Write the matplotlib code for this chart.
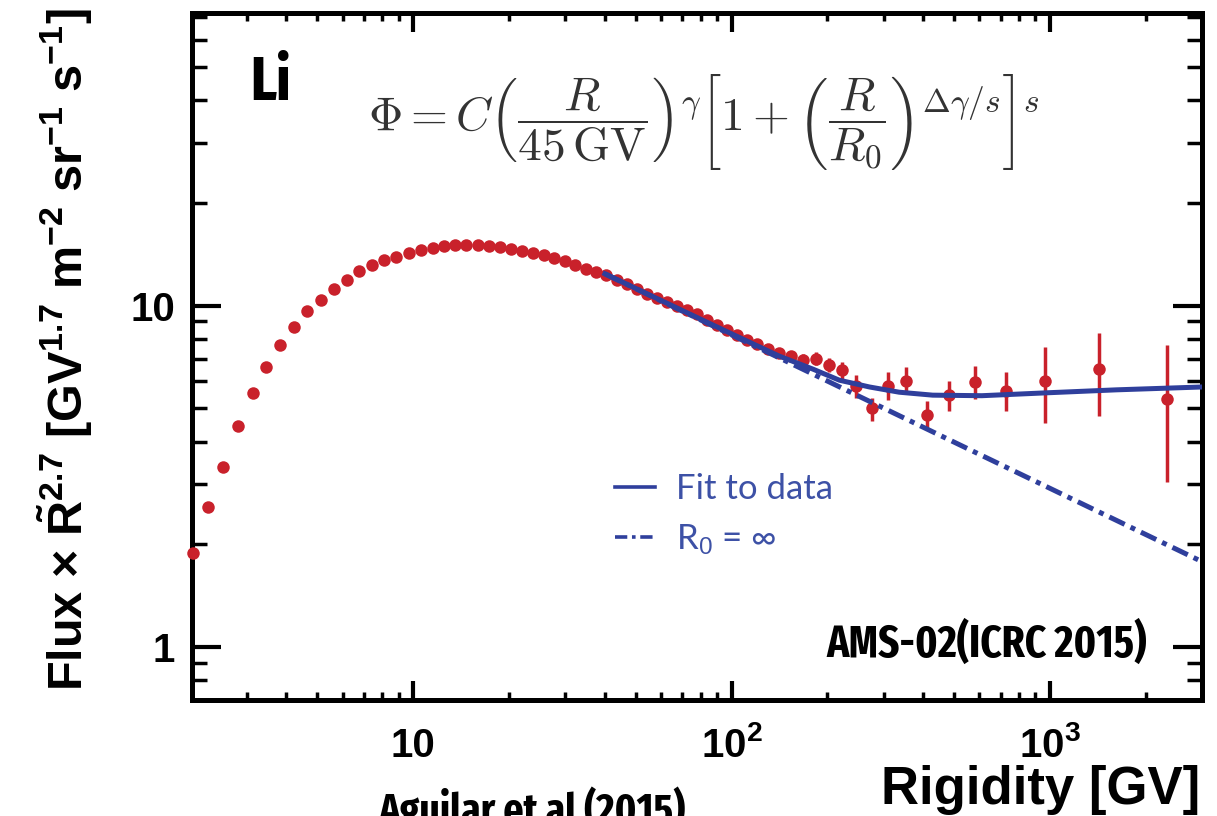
import os

import matplotlib

matplotlib.use("Agg")
import matplotlib.pyplot as plt
from matplotlib import font_manager
from matplotlib.ticker import LogLocator, NullFormatter

# Li flux x R^2.7, bins where the uncertainty is smaller than the marker
rigidity_low = [2.03, 2.27, 2.53, 2.82, 3.13, 3.46, 3.83, 4.22, 4.65, 5.12,
                5.63, 6.18, 6.77, 7.42, 8.11, 8.86, 9.67, 10.55, 11.5, 12.5,
                13.55, 14.7, 15.95, 17.3, 18.75, 20.3, 21.95, 23.75, 25.7, 27.75,
                29.95, 32.3, 34.8, 37.5, 40.4, 43.5, 46.8, 50.35, 54.15, 58.2,
                62.55, 67.25, 72.3, 77.7, 83.5]
flux_low = [1.89, 2.57, 3.38, 4.44, 5.56, 6.60, 7.67, 8.68, 9.63, 10.41,
            11.23, 11.91, 12.66, 13.18, 13.6, 13.91, 14.25, 14.55, 14.8, 14.95,
            15.05, 15.1, 15.1, 15.0, 14.85, 14.7, 14.5, 14.3, 14.05, 13.8,
            13.5, 13.2, 12.85, 12.55, 12.3, 11.9, 11.55, 11.2, 10.85, 10.55,
            10.25, 10.0, 9.7, 9.45, 9.1]

# high rigidity bins with visible error bars
rigidity_high = [89.75, 96.5, 104, 112, 120.5, 130, 141, 153.5, 167.5, 183.5,
                 201.5, 222, 246, 275, 310, 354, 410, 483, 581, 727,
                 964, 1426, 2323]
flux_high = [8.8, 8.5, 8.2, 7.95, 7.7, 7.45, 7.25, 7.1, 6.95, 7.0,
             6.72, 6.48, 5.83, 5.00, 5.83, 6.03, 4.77, 5.48, 5.99, 5.62,
             6.00, 6.53, 5.33]
err_down = [0.1, 0.1, 0.12, 0.12, 0.15, 0.17, 0.2, 0.24, 0.28, 0.3,
            0.33, 0.36, 0.48, 0.39, 0.53, 0.45, 0.46, 0.55, 0.65, 0.69,
            1.47, 1.79, 2.29]
err_up = [0.1, 0.1, 0.12, 0.12, 0.15, 0.17, 0.2, 0.24, 0.28, 0.3,
          0.33, 0.36, 0.42, 0.38, 0.55, 0.57, 0.50, 0.55, 0.66, 0.76,
          1.55, 1.77, 2.34]

# broken power-law fit and the single power law (R0 -> infinity)
fit_rigidity = [40, 70, 100, 141, 180, 218, 240, 271, 336, 428, 611, 988, 1616, 3000]
fit_flux = [12.4, 9.68, 8.27, 7.12, 6.52, 6.05, 5.93, 5.78, 5.58, 5.47, 5.45, 5.56, 5.67, 5.78]
pl_rigidity = [40, 3000]
pl_flux = [12.4, 1.78]

x_ticks = [10, 100, 1000]
x_tick_labels = ["10", r"$\mathbf{10^{2}}$", r"$\mathbf{10^{3}}$"]
y_ticks = [1, 10]
y_tick_labels = ["1", "10"]


def condensed_bold():
    """Narrowest bold sans available, DejaVu Sans Bold otherwise."""
    picks = []
    for f in font_manager.fontManager.ttflist:
        tag = (f.name + " " + os.path.basename(f.fname)).lower().replace(" ", "")
        if not ("condensed" in tag or "narrow" in tag or f.stretch != "normal"):
            continue
        if f.style != "normal" or "italic" in tag:
            continue
        weight = f.weight if isinstance(f.weight, int) else font_manager.weight_dict.get(f.weight, 400)
        if weight < 600 or weight > 800:
            continue
        narrowness = 0 if "extracondensed" in tag else 1 if "condensed" in tag else 2
        picks.append((narrowness, abs(weight - 700), f.fname))
    if picks:
        return font_manager.FontProperties(fname=sorted(picks)[0][2])
    return font_manager.FontProperties(family="DejaVu Sans", weight="bold")


def fit_width(txt, width_px):
    fig.canvas.draw()
    w = txt.get_window_extent().width
    txt.set_fontsize(txt.get_fontsize() * width_px / w)


plt.rcParams.update({
    "font.family": "Liberation Sans",
    "mathtext.fontset": "custom",
    "mathtext.rm": "Liberation Sans",
    "mathtext.it": "Liberation Sans:italic",
    "mathtext.bf": "Liberation Sans:bold",
})

RED = "#c9212b"
BLUE = "#2f3f9c"
NARROW = condensed_bold()

fig = plt.figure(figsize=(12.17, 8.16), dpi=100)
ax = fig.add_axes([192 / 1217, 1 - 700 / 816, 1010 / 1217, 687 / 816])
ax.set_xscale("log")
ax.set_yscale("log")
ax.set_xlim(2.02, 3000)
ax.set_ylim(0.7, 72)

ax.plot(rigidity_low, flux_low, "o", color=RED, ms=9, mew=0, zorder=3, clip_on=False)
ax.errorbar(rigidity_high, flux_high, yerr=[err_down, err_up], fmt="o", color=RED,
            ms=9, mew=0, elinewidth=2.5, capsize=6, capthick=2.5, zorder=2)
ax.plot(fit_rigidity, fit_flux, color=BLUE, lw=3.6, zorder=4, label="Fit to data")
ax.plot(pl_rigidity, pl_flux, color=BLUE, lw=3.6, ls=(0, (3.4, 1.3, 1, 1.3)), zorder=4,
        label=r"R$_0$ = ∞")

for side in ax.spines.values():
    side.set_linewidth(3.6)

ax.set_xticks(x_ticks, x_tick_labels)
ax.set_yticks(y_ticks, y_tick_labels)
ax.xaxis.set_minor_locator(LogLocator(base=10, subs=(2, 3, 4, 5, 6, 7, 8, 9), numticks=20))
ax.yaxis.set_minor_locator(LogLocator(base=10, subs=(2, 3, 4, 5, 6, 7, 8, 9), numticks=20))
ax.xaxis.set_minor_formatter(NullFormatter())
ax.yaxis.set_minor_formatter(NullFormatter())
ax.tick_params(which="both", direction="in", top=True, right=True, color="black")
ax.tick_params(axis="x", which="major", length=14, width=3, pad=41, labelsize=29)
ax.tick_params(axis="x", which="minor", length=6, width=2.5)
ax.tick_params(axis="y", which="major", length=21, width=3, pad=12, labelsize=29)
ax.tick_params(axis="y", which="minor", length=11, width=2.5)
plt.setp(ax.get_xticklabels(), fontweight="bold", va="baseline")
plt.setp(ax.get_yticklabels(), fontweight="bold")

leg = ax.legend(loc="upper left", bbox_to_anchor=(0.419, 0.330), frameon=False,
                prop={"family": "Lato", "size": 25}, labelcolor="#3d51a6",
                handlelength=1.15, handletextpad=0.6, labelspacing=0.5,
                borderpad=0, borderaxespad=0)
for handle in leg.get_lines():
    handle.set_linewidth(2.6)

fig.text(65 / 1217, 0.572,
         r"Flux × $\mathbf{\tilde{R}}^{\mathbf{2.7}}$ [GV$^{\mathbf{1.7}}$ m$^{\mathbf{-2}}$ "
         r"sr$^{\mathbf{-1}}$ s$^{\mathbf{-1}}$]",
         rotation=90, ha="center", va="center", fontsize=35, fontweight="bold")
fig.text(1200 / 1217, 1 - 804 / 816, "Rigidity [GV]", ha="right", va="baseline",
         fontsize=38, fontweight="bold")

formula = fig.text(368 / 1217, 1 - 122 / 816,
                   r"$\Phi = C\left(\dfrac{R}{45\,\mathrm{GV}}\right)^{\gamma}"
                   r"\left[1+\left(\dfrac{R}{R_0}\right)^{\Delta\gamma/s}\right]^{s}$",
                   ha="left", va="center", fontsize=24, color="#333333", math_fontfamily="cm")
fit_width(formula, 677)

ams = fig.text(1147 / 1217, 1 - 657 / 816, "AMS-02(ICRC 2015)", ha="right", va="baseline",
               fontproperties=NARROW.copy())
fit_width(ams, 319)
ref = fig.text(378 / 1217, 1 - 786 / 816, "Aguilar et al (2015)", ha="left", va="top",
               fontproperties=NARROW.copy())
fit_width(ref, 307)
li = fig.text(250 / 1217, 1 - 100 / 816, "Li", ha="left", va="baseline",
              fontproperties=NARROW.copy())
li.set_fontsize(44)

fig.savefig("out.png", dpi=100)
